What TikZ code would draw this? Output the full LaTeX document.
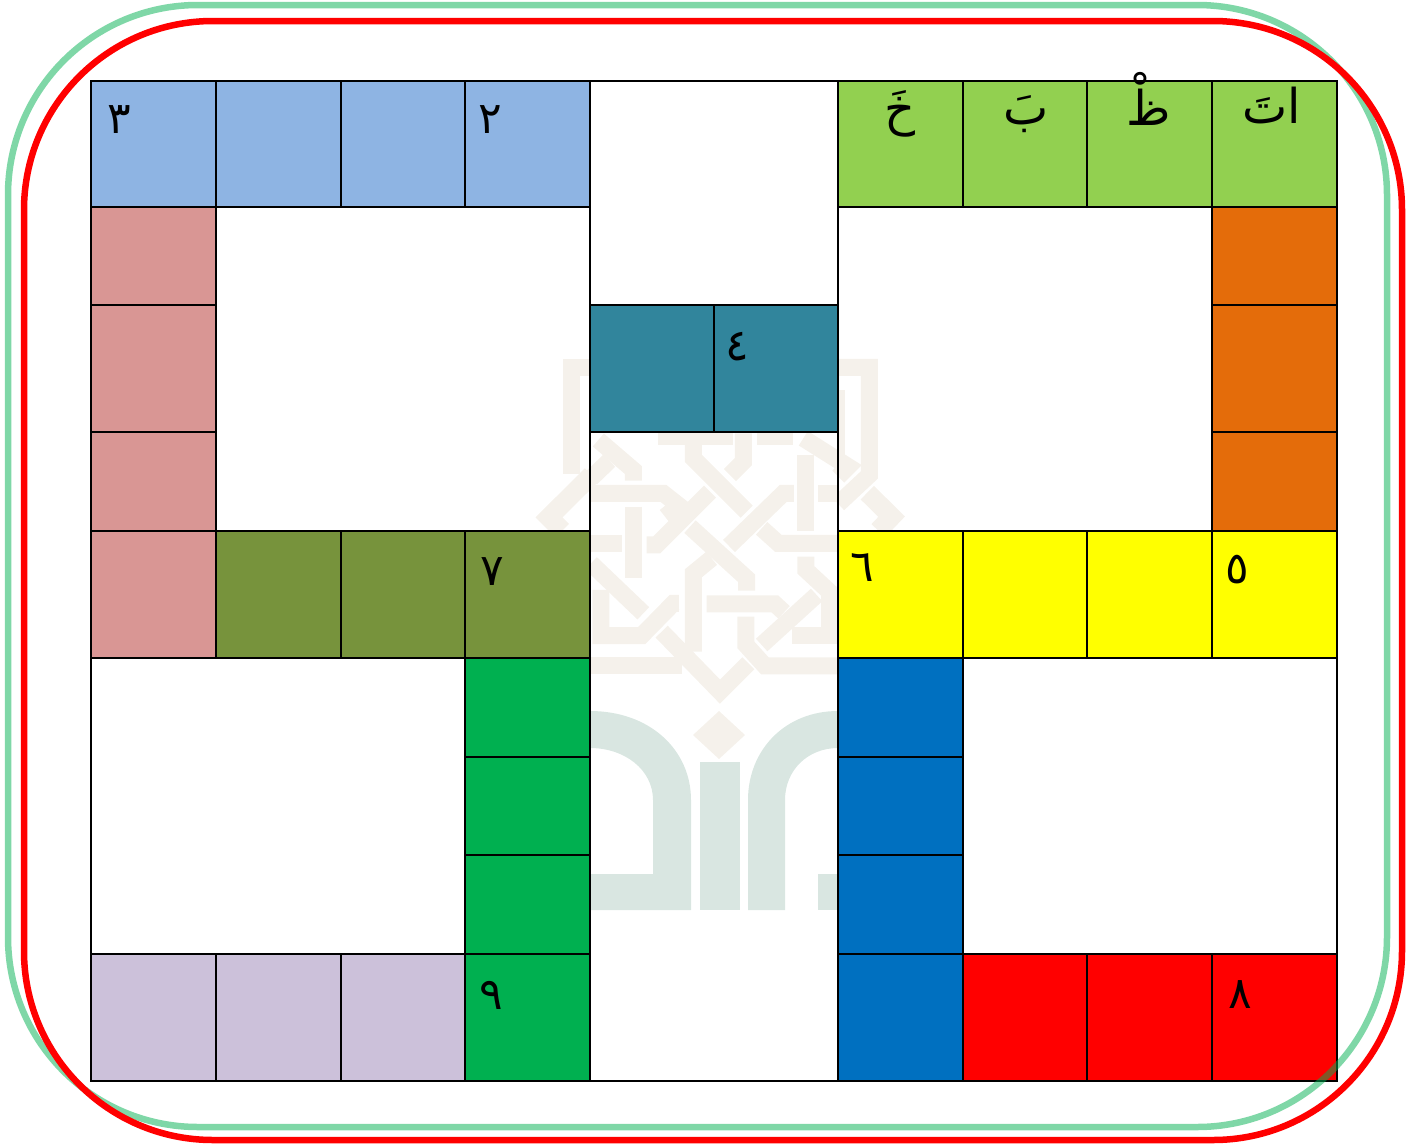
\documentclass[tikz,border=0pt]{standalone}
\usepackage{fontspec}
\TeXXeTstate=1
\newfontfamily\arabicfont[Script=Arabic]{DejaVu Sans}
\definecolor{cblue}{HTML}{8EB4E3}
\definecolor{crose}{HTML}{D99694}
\definecolor{clime}{HTML}{92D050}
\definecolor{corange}{HTML}{E46C0A}
\definecolor{cteal}{HTML}{31859C}
\definecolor{colive}{HTML}{77933C}
\definecolor{cyel}{HTML}{FFFF00}
\definecolor{cgreen}{HTML}{00B050}
\definecolor{cdblue}{HTML}{0070C0}
\definecolor{cred}{HTML}{FF0000}
\definecolor{cpurple}{HTML}{CCC1DA}
\definecolor{wmbeige}{HTML}{F5F1EB}
\definecolor{wmteal}{HTML}{D9E6E1}
\newcommand{\cellbox}[5]{\filldraw[cellstyle,fill=#5] (#1,#2) rectangle (#3,#4);}
\tikzset{
  cellstyle/.style={draw=black,line width=2pt},
  band/.style={draw=wmbeige,line width=17pt,miter limit=10},
  lab/.style={font=\arabicfont\fontsize{44}{50}\selectfont,inner sep=0pt,text=black},
  letter/.style={font=\arabicfont\fontsize{48}{54}\selectfont,inner sep=0pt,text=black},
  frameg/.style={draw=cgreen,draw opacity=0.5,line width=6.5pt,rounded corners=190pt},
  framer/.style={draw=cred,line width=6.5pt,rounded corners=189pt}
}
\begin{document}
\begin{tikzpicture}[x=1pt,y=-1pt]
\useasboundingbox (0,0) rectangle (1419,1144);
% watermark: knot
\begin{scope}[shift={(530,330)},x=0.3333pt,y=-0.3333pt]
\draw[band] (180,112)--(123,112)--(123,432);
\draw[band,line width=19pt] (185,435)--(57,562)--(97,602);
\draw[band] (925,112)--(1018,112)--(1018,435)--(925,522);
\draw[band,line width=19pt] (1012,488)--(1085,560)--(1045,602);
\draw[band,line width=7pt] (935,180)--(935,380);
\draw[band] (385,320)--(610,320);
\draw[band] (680,320)--(790,320);
\draw[band] (205,330)--(310,420)--(310,452);
\draw[band] (183,445)--(238,392);
\draw[band] (183,490)--(400,490)--(447,527)--(405,560);
\draw[band] (310,530)--(310,745);
\draw[band] (183,640)--(275,640);
\draw[band] (350,645)--(380,645)--(540,485);
\draw[band] (490,340)--(490,385)--(650,545);
\draw[band] (640,310)--(640,395)--(600,435);
\draw[band] (597,648)--(760,490)--(792,490);
\draw[band] (480,590)--(650,745)--(650,782);
\draw[band] (828,602)--(828,375);
\draw[band] (865,490)--(925,490);
\draw[band] (695,595)--(745,640)--(925,640);
\draw[band] (183,700)--(340,850);
\draw[band] (213,780)--(213,917)--(335,917)--(430,820)--(447,820);
\draw[band] (490,965)--(490,730)--(545,685);
\draw[band] (530,822)--(735,822)--(762,847);
\draw[band] (648,860)--(648,945)--(705,1008)--(925,1008);
\draw[band] (395,905)--(570,1085)--(655,1000);
\draw[band] (183,1008)--(455,1008);
\draw[band] (695,945)--(860,795);
\draw[band] (828,680)--(828,720)--(925,810);
\draw[band] (900,780)--(900,890);
\draw[band] (785,917)--(925,917);
\draw[band] (820,325)--(955,410)--(925,440);
\end{scope}
% watermark: diamond and arches
\fill[wmbeige] (719,711)--(745,735)--(719,759)--(693,735)--cycle;
\fill[wmteal] (590,711) .. controls (650,711) and (691,750) .. (691,800) -- (691,910) -- (590,910) -- (590,874) -- (653,874) -- (653,800) .. controls (653,770) and (625,748) .. (590,748) -- cycle;
\fill[wmteal] (700,762) rectangle (740,910);
\fill[wmteal] (838,711) .. controls (785,711) and (748,750) .. (748,800) -- (748,910) -- (785,910) -- (785,800) .. controls (785,770) and (808,748) .. (838,748) -- cycle;
\fill[wmteal] (818,874) rectangle (838,910);
% open cells
\draw[cellstyle] (590,81) rectangle (838,305);
\draw[cellstyle] (216,207) rectangle (590,531);
\draw[cellstyle] (838,207) rectangle (1212,531);
\draw[cellstyle] (91,658) rectangle (465,954);
\draw[cellstyle] (963,658) rectangle (1337,954);
\draw[cellstyle] (590,432) rectangle (838,1081);
% top rows
\cellbox{91}{81}{216}{207}{cblue}
\cellbox{216}{81}{341}{207}{cblue}
\cellbox{341}{81}{465}{207}{cblue}
\cellbox{465}{81}{590}{207}{cblue}
\cellbox{838}{81}{963}{207}{clime}
\cellbox{963}{81}{1087}{207}{clime}
\cellbox{1087}{81}{1212}{207}{clime}
\cellbox{1212}{81}{1337}{207}{clime}
% left rose
\cellbox{91}{207}{216}{305}{crose}
\cellbox{91}{305}{216}{432}{crose}
\cellbox{91}{432}{216}{531}{crose}
\cellbox{91}{531}{216}{658}{crose}
% right orange
\cellbox{1212}{207}{1337}{305}{corange}
\cellbox{1212}{305}{1337}{432}{corange}
\cellbox{1212}{432}{1337}{531}{corange}
% teal
\cellbox{590}{305}{714}{432}{cteal}
\cellbox{714}{305}{838}{432}{cteal}
% olive
\cellbox{216}{531}{341}{658}{colive}
\cellbox{341}{531}{465}{658}{colive}
\cellbox{465}{531}{590}{658}{colive}
% yellow
\cellbox{838}{531}{963}{658}{cyel}
\cellbox{963}{531}{1087}{658}{cyel}
\cellbox{1087}{531}{1212}{658}{cyel}
\cellbox{1212}{531}{1337}{658}{cyel}
% green column
\cellbox{465}{658}{590}{757}{cgreen}
\cellbox{465}{757}{590}{855}{cgreen}
\cellbox{465}{855}{590}{954}{cgreen}
\cellbox{465}{954}{590}{1081}{cgreen}
% blue column
\cellbox{838}{658}{963}{757}{cdblue}
\cellbox{838}{757}{963}{855}{cdblue}
\cellbox{838}{855}{963}{954}{cdblue}
\cellbox{838}{954}{963}{1081}{cdblue}
% purple
\cellbox{91}{954}{216}{1081}{cpurple}
\cellbox{216}{954}{341}{1081}{cpurple}
\cellbox{341}{954}{465}{1081}{cpurple}
% red
\cellbox{963}{954}{1087}{1081}{cred}
\cellbox{1087}{954}{1212}{1081}{cred}
\cellbox{1212}{954}{1337}{1081}{cred}
% labels
\node[lab] (n3) at (119,120) {\beginR ٣\endR};
\node[lab] (n2) at (490,120) {\beginR ٢\endR};
\node[lab] (n4) at (737,347) {\beginR ٤\endR};
\node[lab] (n7) at (492,572) {\beginR ٧\endR};
\node[lab] (n6) at (862,568) {\beginR ٦\endR};
\node[lab] (n5) at (1237,570) {\beginR ٥\endR};
\node[lab] (n9) at (491,995) {\beginR ٩\endR};
\node[lab] (n8) at (1240,995) {\beginR ٨\endR};
\node[letter] (kha) at (900,114) {\beginR خَ\endR};
\node[letter] (ba) at (1026,114) {\beginR بَ\endR};
\node[letter] (za) at (1149,99) {\beginR ظْ\endR};
\node[letter] (ata) at (1272,105) {\beginR اتَ\endR};
% frames
\draw[frameg] (8,5) rectangle (1387,1127);
\draw[framer] (24,21) rectangle (1402,1140);
\end{tikzpicture}
\end{document}
